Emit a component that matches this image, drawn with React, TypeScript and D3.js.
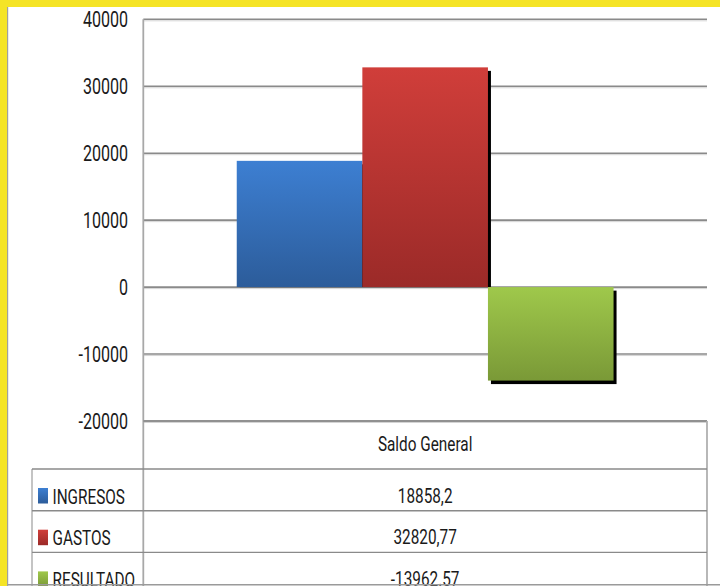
import React from "react";
import * as d3 from "d3";

const categories = ["Saldo General"];
const seriesNames = ["INGRESOS", "GASTOS", "RESULTADO"];
const seriesValues = [18858.2, 32820.77, -13962.57];
const valueLabels = ["18858,2", "32820,77", "-13962.57"];
const yTicks = [-20000, -10000, 0, 10000, 20000, 30000, 40000];
const colorsTop = ["#3d7fd2", "#d03e3a", "#9fc84b"];
const colorsBottom = ["#2c5c9a", "#9b2a28", "#7a9937"];

const W = 720;
const H = 586;
const FONT = "Roboto, 'Liberation Sans', sans-serif";
const SX = 0.73;

export default function App() {
  const y = d3.scaleLinear().domain([-20000, 40000]).range([421, 19.3]);
  const x = d3.scaleBand().domain(categories).range([143.3, 707]).padding(0);
  const xs = d3
    .scaleBand()
    .domain(seriesNames)
    .range([0, x.bandwidth()])
    .paddingInner(0)
    .paddingOuter(0.744);

  const plotLeft = 143.3;
  const plotRight = 707;
  const tableTop = 421;
  const headerBottom = 469;
  const rowH = 41.7;
  const tableLeft = 32;
  const rowTop = (i: number) => headerBottom + i * rowH;
  const cx = (x(categories[0]) as number) + x.bandwidth() / 2;
  const y0 = y(0);
  const sdx = 3;
  const sdy = 3.5;

  return (
    <svg
      width={W}
      height={H}
      style={{ position: "absolute", left: 0, top: 0, background: "#fff" }}
      fontFamily={FONT}
    >
      <defs>
        {seriesNames.map((s, i) => (
          <linearGradient key={s} id={`g${i}`} x1="0" y1="0" x2="0" y2="1">
            <stop offset="0%" stopColor={colorsTop[i]} />
            <stop offset="100%" stopColor={colorsBottom[i]} />
          </linearGradient>
        ))}
      </defs>
      <rect x={0} y={0} width={W} height={H} fill="#fff" />

      {/* gridlines */}
      {yTicks.map((t) => (
        <g key={t}>
          <line
            x1={plotLeft}
            x2={plotRight}
            y1={y(t)}
            y2={y(t)}
            stroke="#8a8a8a"
            strokeWidth={1.6}
          />
          <line
            x1={plotLeft}
            x2={plotRight}
            y1={y(t) + 1.5}
            y2={y(t) + 1.5}
            stroke="#d4d4d4"
            strokeWidth={1}
          />
        </g>
      ))}

      {/* bars with shadows */}
      {seriesNames.map((s, i) => {
        const v = seriesValues[i];
        const bx = (x(categories[0]) as number) + (xs(s) as number);
        const bw = xs.bandwidth();
        const top = Math.min(y(v), y0);
        const bot = Math.max(y(v), y0);
        const shTop = v >= 0 ? top + sdy : top + sdy;
        const shBot = v >= 0 ? y0 : bot + sdy;
        return (
          <g key={s}>
            <rect x={bx + sdx} y={shTop} width={bw} height={shBot - shTop} fill="#000" />
            <rect x={bx} y={top} width={bw} height={bot - top} fill={`url(#g${i})`} />
          </g>
        );
      })}

      {/* y axis line */}
      <line x1={plotLeft} x2={plotLeft} y1={y(40000)} y2={H} stroke="#a8a8a8" strokeWidth={1.8} />

      {/* tick labels */}
      {yTicks.map((t) => (
        <text
          key={t}
          transform={`translate(128, ${y(t) + 8}) scale(${SX},1)`}
          textAnchor="end"
          fontSize={22}
          fill="#1a1a1a"
        >
          {t}
        </text>
      ))}

      {/* data table */}
      <line x1={plotLeft} x2={plotRight} y1={tableTop} y2={tableTop} stroke="#8a8a8a" strokeWidth={1.6} />
      <line x1={plotRight} x2={plotRight} y1={tableTop} y2={H} stroke="#b0b0b0" strokeWidth={1.8} />
      <line x1={tableLeft} x2={tableLeft} y1={headerBottom} y2={H} stroke="#b0b0b0" strokeWidth={1.5} />
      {[0, 1, 2].map((i) => (
        <line
          key={i}
          x1={tableLeft}
          x2={plotRight}
          y1={rowTop(i)}
          y2={rowTop(i)}
          stroke="#8a8a8a"
          strokeWidth={1.4}
        />
      ))}
      <text
        transform={`translate(${cx}, 450.7) scale(${SX},1)`}
        textAnchor="middle"
        fontSize={21}
        fill="#1a1a1a"
      >
        {categories[0]}
      </text>
      {seriesNames.map((s, i) => (
        <g key={s}>
          <rect x={38} y={rowTop(i) + 19} width={10} height={15.5} fill={`url(#g${i})`} />
          <text
            transform={`translate(52.5, ${rowTop(i) + 34.5}) scale(${SX},1)`}
            fontSize={21}
            fill="#1a1a1a"
          >
            {s}
          </text>
          <text
            transform={`translate(${cx}, ${rowTop(i) + 33.5}) scale(${SX},1)`}
            textAnchor="middle"
            fontSize={21}
            fill="#1a1a1a"
          >
            {valueLabels[i]}
          </text>
        </g>
      ))}

      {/* frame */}
      <line x1={7} x2={W} y1={584.8} y2={584.8} stroke="#9a9a9a" strokeWidth={1.4} />
      <line x1={7.6} x2={7.6} y1={7} y2={H} stroke="#a0a0a0" strokeWidth={1.2} />
      <rect x={0} y={0} width={7} height={H} fill="#f5e426" />
      <rect x={0} y={0} width={W} height={7} fill="#f5e426" />
    </svg>
  );
}
